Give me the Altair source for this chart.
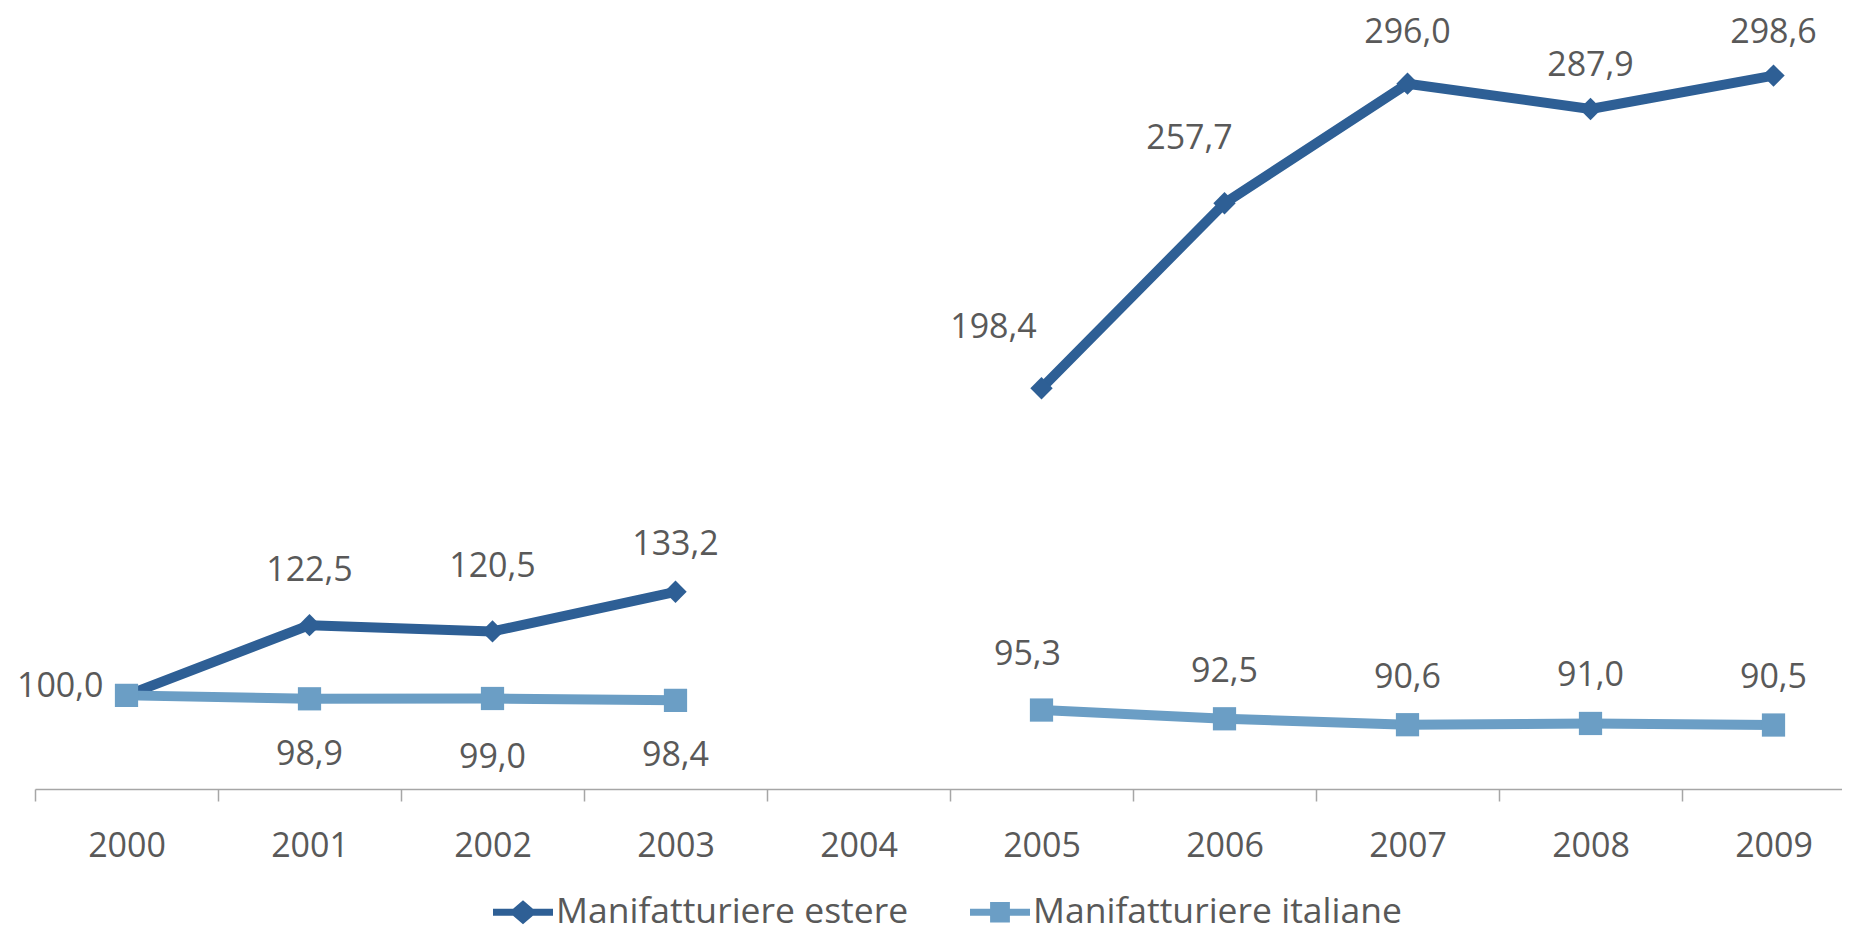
import altair as alt
import pandas as pd

anni = ["2000", "2001", "2002", "2003", "2004", "2005", "2006", "2007", "2008", "2009"]
estere = [100.0, 122.5, 120.5, 133.2, None, 198.4, 257.7, 296.0, 287.9, 298.6]
italiane = [100.0, 98.9, 99.0, 98.4, None, 95.3, 92.5, 90.6, 91.0, 90.5]
serie = ["Manifatturiere estere", "Manifatturiere italiane"]
colori = ["#2E5F95", "#6B9EC5"]

rows = []
for nome, valori in zip(serie, [estere, italiane]):
    for a, v in zip(anni, valori):
        if v is not None:
            rows.append({"anno": a, "valore": v, "serie": nome})
df = pd.DataFrame(rows)

FONT = "Open Sans"
TXT = "#595959"
FS = 34

color_scale = alt.Scale(domain=serie, range=colori)
x = alt.X(
    "anno:N",
    scale=alt.Scale(type="band", domain=anni, range=[0, 1830], paddingInner=0, paddingOuter=0),
    axis=alt.Axis(
        title=None, labelAngle=0, labelFont=FONT, labelFontSize=FS, labelColor=TXT,
        domainColor="#A6A6A6", domainWidth=1.5, tickColor="#A6A6A6", tickWidth=1.5,
        tickSize=12, tickBand="extent", labelPadding=45, labelBaseline="middle", grid=False,
    ),
)
y = alt.Y("valore:Q", scale=alt.Scale(domain=[70, 310], nice=False, zero=False), axis=None)

base = alt.Chart(df).transform_calculate(
    tratto="toNumber(datum.anno) < 2004 ? 'a' : 'b'",
    etichetta="replace(format(datum.valore, '.1f'), '.', ',')",
)

def serie_layers(i, shape, size):
    b = base.transform_filter(alt.datum.serie == serie[i])
    line = b.mark_line(strokeWidth=10, strokeJoin="round", strokeCap="round",
                       color=colori[i]).encode(x=x, y=y, detail="tratto:N")
    pts = b.mark_point(filled=True, opacity=1, shape=shape, size=size,
                       color=colori[i]).encode(x=x, y=y)
    return line + pts

def labels(nome, anni_sel, **kw):
    b = base.transform_filter(alt.datum.serie == nome).transform_filter(
        alt.FieldOneOfPredicate(field="anno", oneOf=anni_sel)
    )
    return b.mark_text(font=FONT, fontSize=FS, color=TXT, **kw).encode(x=x, y=y, text="etichetta:N")

path_d = "M-1,-0.12 L-0.33,-0.12 L0,-0.4 L0.33,-0.12 L1,-0.12 L1,0.12 L0.33,0.12 L0,0.4 L-0.33,0.12 L-1,0.12 Z"
path_s = ("M-1,-0.12 L-0.33,-0.12 L-0.33,-0.34 L0.33,-0.34 L0.33,-0.12 L1,-0.12 L1,0.12 "
          "L0.33,0.12 L0.33,0.34 L-0.33,0.34 L-0.33,0.12 L-1,0.12 Z")

leg_props = dict(
    title=None, orient="none", legendX=458, legendY=842, direction="horizontal",
    symbolSize=3600, labelFont=FONT, labelFontSize=35.5, labelColor=TXT, labelOffset=3,
    labelLimit=1000, columnPadding=61, padding=0, symbolStrokeWidth=0, symbolOpacity=1,
)
legend_layer = base.mark_point(filled=True, opacity=1).encode(
    color=alt.Color("serie:N", scale=color_scale, legend=alt.Legend(**leg_props)),
    shape=alt.Shape("serie:N", scale=alt.Scale(domain=serie, range=[path_d, path_s]),
                    legend=alt.Legend(**leg_props)),
).transform_filter("false")

E, I = serie
chart = alt.layer(
    serie_layers(0, "diamond", 500),
    serie_layers(1, "square", 540),
    labels(E, ["2001"], dy=-54),
    labels(E, ["2007"], dy=-51),
    labels(E, ["2002"], dy=-64),
    labels(E, ["2003"], dy=-47),
    labels(E, ["2008", "2009"], dy=-43),
    labels(E, ["2005"], dx=-48, dy=-60),
    labels(E, ["2006"], dx=-35, dy=-64),
    labels(E, ["2000"], align="right", dx=-23, dy=-8),
    labels(I, ["2001", "2003"], dy=56),
    labels(I, ["2002"], dy=60),
    labels(I, ["2005"], dx=-14, dy=-55),
    labels(I, ["2006", "2007", "2008", "2009"], dy=-47),
    legend_layer,
).properties(
    width=1807, height=749,
    autosize=alt.AutoSizeParams(type="none"),
    padding={"left": 27, "top": 32, "right": 0, "bottom": 136},
    background="white",
).configure_view(stroke=None)

chart.save("out.html", embed_options={"renderer": "svg", "actions": False})
